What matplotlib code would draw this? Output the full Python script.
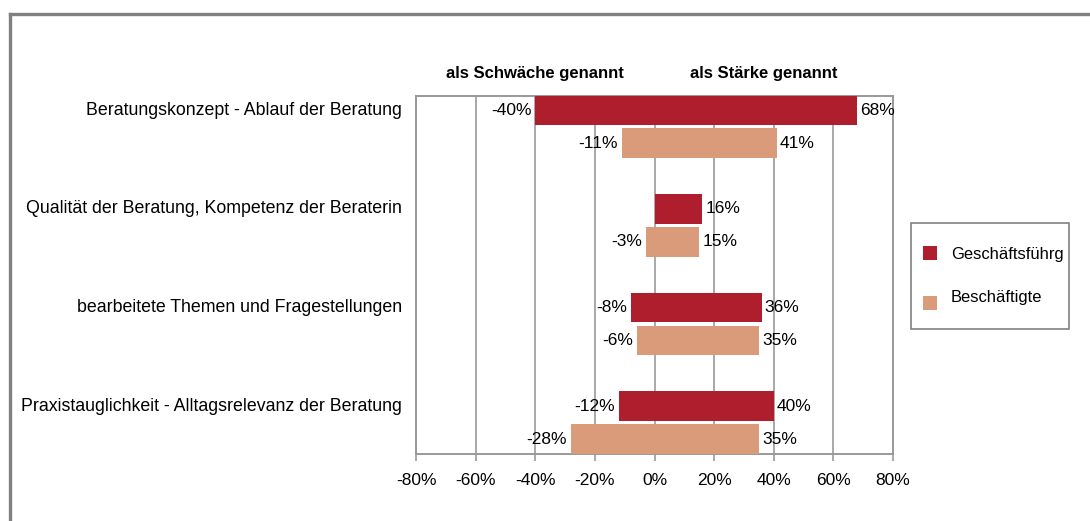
import matplotlib
matplotlib.use('Agg')
from matplotlib import pyplot as plt
from matplotlib.patches import Rectangle
import numpy as np

plt.rcParams['font.family'] = ['Liberation Sans', 'DejaVu Sans']

categories = ['Beratungskonzept - Ablauf der Beratung',
              'Qualität der Beratung, Kompetenz der Beraterin',
              'bearbeitete Themen und Fragestellungen',
              'Praxistauglichkeit - Alltagsrelevanz der Beratung']
series = ['Geschäftsführg', 'Beschäftigte']
weak_gf = [-40, 0, -8, -12]
strong_gf = [68, 16, 36, 40]
weak_be = [-11, -3, -6, -28]
strong_be = [41, 15, 35, 35]
xticks = [-80, -60, -40, -20, 0, 20, 40, 60, 80]

RED = '#AF1E2D'
ORANGE = '#D99B79'
GRID = '#999999'
FS = 12.5


def main():
    fig = plt.figure(figsize=(10.9, 5.21), dpi=100)
    # outer frame (only top and left visible)
    fig.add_artist(plt.Line2D([0.0092, 1.0], [0.9722, 0.9722], color='#808080', lw=2.4,
                              transform=fig.transFigure))
    fig.add_artist(plt.Line2D([0.0095, 0.0095], [0.0, 0.9722], color='#808080', lw=2.4,
                              transform=fig.transFigure))

    ax = fig.add_axes([0.3817, 0.1286, 0.4376, 0.688])
    y = np.arange(len(categories))
    off = 0.167
    h = 0.30
    data = [(weak_gf, strong_gf, RED, -off), (weak_be, strong_be, ORANGE, off)]
    for weak, strong, col, dy in data:
        ax.barh(y + dy, weak, height=h, color=col, zorder=3)
        ax.barh(y + dy, strong, height=h, color=col, zorder=3)
        for yi, w, s in zip(y, weak, strong):
            if w != 0:
                ax.text(w - 1.3, yi + dy, '%d%%' % w, ha='right', va='center',
                        fontsize=FS, zorder=4)
            ax.text(s + 1.0, yi + dy, '%d%%' % s, ha='left', va='center',
                    fontsize=FS, zorder=4, clip_on=False)

    ax.set_xlim(-80, 80)
    ax.set_ylim(3 + off + h / 2, -off - h / 2)
    ax.set_xticks(xticks)
    ax.set_xticklabels(['%d%%' % t for t in xticks], fontsize=FS)
    ax.set_yticks([])
    for t in xticks:
        ax.axvline(t, color=GRID, lw=1.2, zorder=1)
    for sp in ax.spines.values():
        sp.set_color(GRID)
        sp.set_linewidth(1.4)
    ax.tick_params(axis='x', length=5, width=1.2, color=GRID, pad=9)

    # category labels aligned with the first series
    for yi, cat in zip(y, categories):
        ax.text(-84.8, yi - off, cat, ha='right', va='center', fontsize=12.75, clip_on=False)

    ax.text(-40, -0.54, 'als Schw\u00e4che genannt', ha='center', va='center',
            fontsize=12, fontweight='bold')
    ax.text(36.5, -0.54, 'als St\u00e4rke genannt', ha='center', va='center',
            fontsize=12, fontweight='bold')

    # legend box
    fig.add_artist(Rectangle((0.8358, 0.3685), 0.1445, 0.2035, transform=fig.transFigure,
                             facecolor='white', edgecolor='#808080', lw=1.2))
    marker_y = [0.501, 0.405]
    text_y = [0.5029, 0.4203]
    for name, col, my, ty in zip(series, [RED, ORANGE], marker_y, text_y):
        fig.add_artist(Rectangle((0.8468, my), 0.0128, 0.0269, transform=fig.transFigure,
                                 facecolor=col, edgecolor='none'))
        fig.text(0.8725, ty, name, ha='left', va='baseline', fontsize=11.9)

    plt.savefig('out.png', dpi=100)


if __name__ == '__main__':
    main()
